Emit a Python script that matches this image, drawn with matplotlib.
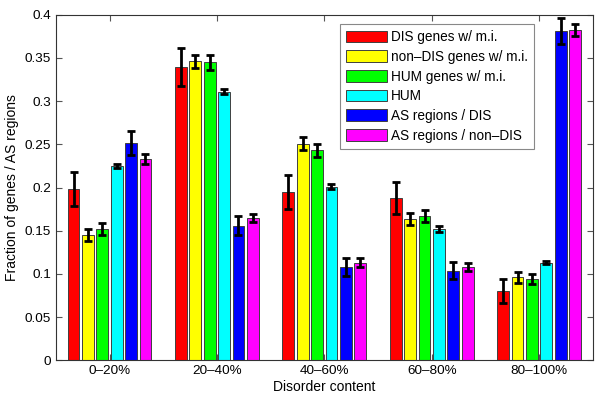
import numpy as np
import matplotlib
matplotlib.use("Agg")
import matplotlib.pyplot as plt

plt.rcParams['font.family'] = ['Liberation Sans', 'DejaVu Sans']

groups = ['0\u201320%', '20\u201340%', '40\u201360%', '60\u201380%', '80\u2013100%']
series = ['DIS genes w/ m.i.', 'non\u2013DIS genes w/ m.i.', 'HUM genes w/ m.i.',
          'HUM', 'AS regions / DIS', 'AS regions / non\u2013DIS']
colors = ['#ff0000', '#ffff00', '#00ff00', '#00ffff', '#0000ff', '#ff00ff']

dis_mi = [0.198, 0.340, 0.195, 0.188, 0.080]
nondis_mi = [0.145, 0.346, 0.251, 0.164, 0.096]
hum_mi = [0.152, 0.345, 0.243, 0.167, 0.094]
hum = [0.225, 0.311, 0.201, 0.152, 0.113]
as_dis = [0.252, 0.156, 0.108, 0.104, 0.381]
as_nondis = [0.233, 0.165, 0.113, 0.108, 0.382]

dis_mi_err = [0.0195, 0.022, 0.020, 0.019, 0.014]
nondis_mi_err = [0.007, 0.008, 0.008, 0.007, 0.006]
hum_mi_err = [0.007, 0.009, 0.008, 0.007, 0.006]
hum_err = [0.002, 0.003, 0.003, 0.003, 0.002]
as_dis_err = [0.014, 0.011, 0.010, 0.010, 0.015]
as_nondis_err = [0.006, 0.005, 0.005, 0.005, 0.007]

values = [dis_mi, nondis_mi, hum_mi, hum, as_dis, as_nondis]
errors = [dis_mi_err, nondis_mi_err, hum_mi_err, hum_err, as_dis_err, as_nondis_err]

fig = plt.figure(figsize=(6, 4), dpi=100)
ax = fig.add_axes([0.093, 0.099, 0.895, 0.864])

x = np.arange(1, len(groups) + 1)
pitch = 0.134
width = 0.11
for i in range(len(series)):
    xs = x + (i - 2.5) * pitch
    ax.bar(xs, values[i], width, color=colors[i], edgecolor='#404040',
           linewidth=0.7, label=series[i], zorder=2)
    ax.errorbar(xs, values[i], yerr=errors[i], fmt='none', ecolor='black',
                elinewidth=2, capsize=3, capthick=2, zorder=3)

ax.set_xlim(0.5, 5.5)
ax.set_ylim(0, 0.4)
ax.set_xticks(x)
ax.set_xticklabels(groups)
ax.set_yticks(np.arange(0, 0.401, 0.05))
ax.set_yticklabels(['0', '0.05', '0.1', '0.15', '0.2', '0.25', '0.3', '0.35', '0.4'])
ax.tick_params(direction='in', top=True, right=True, labelsize=9.7, length=4,
               color='#555555')
ax.set_xlabel('Disorder content', fontsize=10, labelpad=2)
ax.set_ylabel('Fraction of genes / AS regions', fontsize=10)
for s in ax.spines.values():
    s.set_linewidth(0.8)
    s.set_color('#333333')

leg = ax.legend(loc='upper left', bbox_to_anchor=(340 / 600, 1 - 24 / 400),
                bbox_transform=fig.transFigure, fontsize=9.8,
                frameon=True, fancybox=False, edgecolor='#888888', framealpha=1,
                handlelength=3.0, handleheight=0.95, borderpad=0.45,
                labelspacing=0.42, handletextpad=0.3, borderaxespad=0)
leg.get_frame().set_linewidth(0.8)

fig.savefig('out.png', dpi=100)
